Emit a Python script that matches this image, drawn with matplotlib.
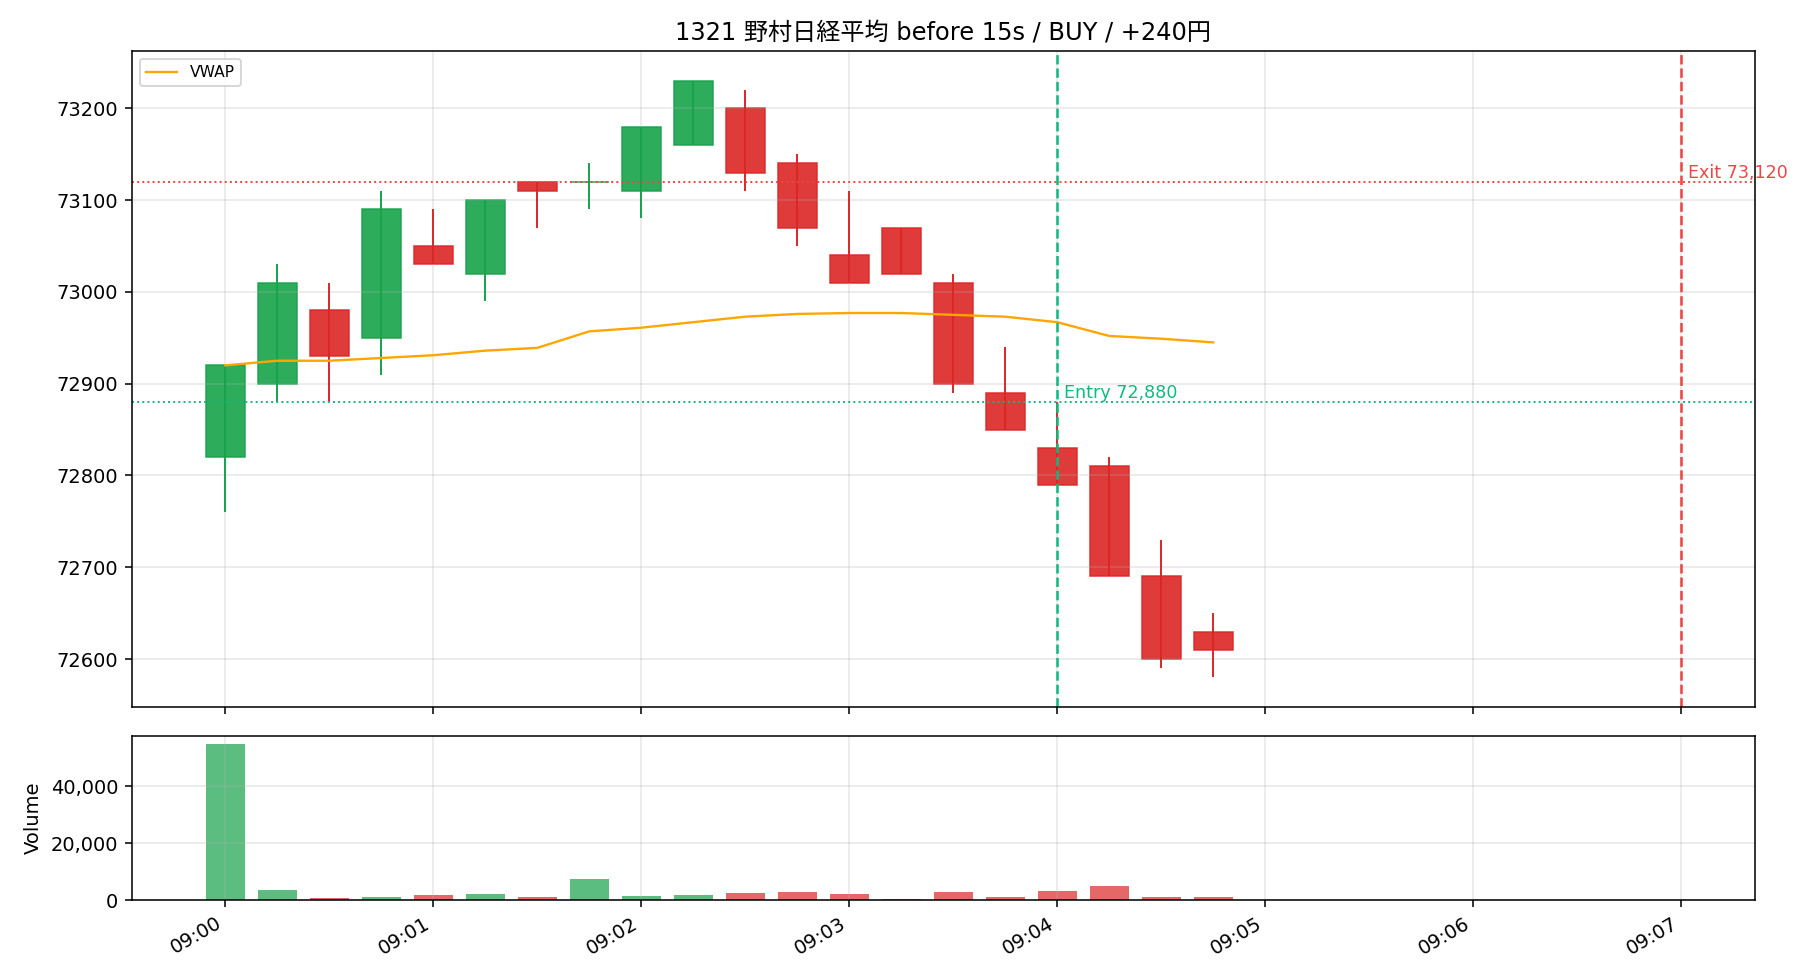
import datetime as dt
import numpy as np
import matplotlib
matplotlib.use("Agg")
import matplotlib.pyplot as plt
import matplotlib.dates as mdates
from matplotlib.ticker import FuncFormatter

plt.rcParams['font.family'] = ['DejaVu Sans', 'Noto Sans CJK JP']

# 15s bars from 09:00:00
title = "1321 野村日経平均 before 15s / BUY / +240円"
opens = [72820, 72900, 72980, 72950, 73050, 73020, 73120, 73120, 73110, 73160,
         73200, 73140, 73040, 73070, 73010, 72890, 72830, 72810, 72690, 72630]
highs = [72920, 73030, 73010, 73110, 73090, 73100, 73120, 73140, 73180, 73230,
         73220, 73150, 73110, 73070, 73020, 72940, 72880, 72820, 72730, 72650]
lows = [72760, 72880, 72880, 72910, 73030, 72990, 73070, 73090, 73080, 73160,
        73110, 73050, 73010, 73020, 72890, 72850, 72790, 72690, 72590, 72580]
closes = [72920, 73010, 72930, 73090, 73030, 73100, 73110, 73120, 73180, 73230,
          73130, 73070, 73010, 73020, 72900, 72850, 72790, 72690, 72600, 72610]
volumes = [55000, 3700, 600, 1000, 1750, 2100, 1000, 7250, 1400, 1750,
           2450, 2800, 2100, 200, 2800, 1050, 3150, 4900, 1000, 1000]
vwap = [72920, 72925, 72925, 72928, 72931, 72936, 72939, 72957, 72961, 72967,
        72973, 72976, 72977, 72977, 72975, 72973, 72967, 72952, 72949, 72945]

entry_price = 72880
exit_price = 73120
entry_time = dt.datetime(2024, 1, 4, 9, 4, 0)
exit_time = dt.datetime(2024, 1, 4, 9, 7, 0)

start = dt.datetime(2024, 1, 4, 9, 0, 0)
times = [start + dt.timedelta(seconds=15 * i) for i in range(len(opens))]
x = mdates.date2num(times)
width = 15 * 0.75 / 86400

GREEN = '#16a34a'
RED = '#dc2626'
ENTRY_C = '#10b981'
EXIT_C = '#ef4444'

opens = np.array(opens)
closes = np.array(closes)
up = closes >= opens
colors = [GREEN if u else RED for u in up]

fig, (ax, axv) = plt.subplots(2, 1, figsize=(13, 7), dpi=140, sharex=True,
                              gridspec_kw={'height_ratios': [4, 1], 'hspace': 0.07})
fig.subplots_adjust(left=0.0725, right=0.9643, top=0.948, bottom=0.0816)

# candles
ax.vlines(x, lows, highs, colors=colors, linewidth=1)
ax.bar(x, closes - opens, bottom=opens, width=width, color=colors,
       edgecolor=colors, linewidth=0.8, alpha=0.9)
ax.plot(x, vwap, color='orange', linewidth=1.2, label='VWAP')

# entry / exit
ax.axhline(entry_price, color=ENTRY_C, linestyle=':', linewidth=1)
ax.axhline(exit_price, color=EXIT_C, linestyle=':', linewidth=1)
ax.axvline(mdates.date2num(entry_time), color=ENTRY_C, linestyle='--', linewidth=1.3)
ax.axvline(mdates.date2num(exit_time), color=EXIT_C, linestyle='--', linewidth=1.3)
off = 2 / 86400
ax.text(mdates.date2num(entry_time) + off, entry_price, f"Entry {entry_price:,}",
        color=ENTRY_C, fontsize=9, va='bottom', ha='left')
ax.text(mdates.date2num(exit_time) + off, exit_price, f"Exit {exit_price:,}",
        color=EXIT_C, fontsize=9, va='bottom', ha='left')

ax.set_title(title, fontsize=12.4)
ax.legend(loc='upper left', fontsize=8)
ax.grid(True, alpha=0.3)

# volume
axv.bar(x, volumes, width=width, color=colors, alpha=0.7)
axv.set_ylabel('Volume')
axv.yaxis.set_major_formatter(FuncFormatter(lambda v, p: f"{v:,.0f}"))
axv.grid(True, alpha=0.3)

axv.xaxis.set_major_locator(mdates.MinuteLocator())
axv.xaxis.set_major_formatter(mdates.DateFormatter('%H:%M'))
plt.setp(axv.get_xticklabels(), rotation=30, ha='right')
ax.tick_params(labelbottom=False)

fig.savefig('out.png', dpi=140)
